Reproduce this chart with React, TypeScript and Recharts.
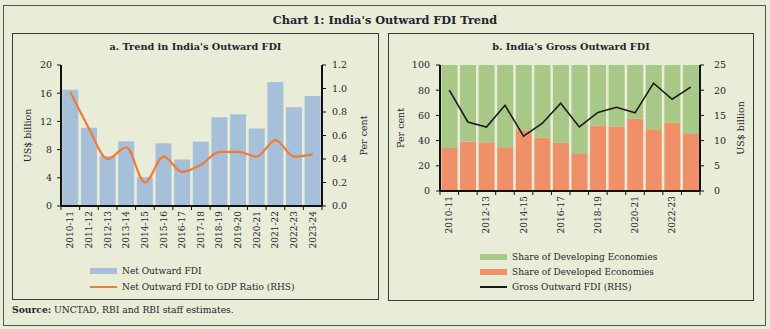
import { ComposedChart, Bar, Line, XAxis, YAxis, Label } from "recharts";

const years = [
  "2010-11", "2011-12", "2012-13", "2013-14", "2014-15", "2015-16", "2016-17",
  "2017-18", "2018-19", "2019-20", "2020-21", "2021-22", "2022-23", "2023-24",
];
// panel a
const netOutwardFdi = [16.5, 11.1, 7.1, 9.2, 4.1, 8.9, 6.6, 9.1, 12.6, 13.0, 11.0, 17.6, 14.0, 15.6];
const fdiToGdpRatio = [0.97, 0.66, 0.4, 0.5, 0.2, 0.42, 0.29, 0.35, 0.46, 0.46, 0.42, 0.56, 0.42, 0.44];
// panel b
const developedShare = [34.2, 39.0, 38.7, 34.8, 48.3, 42.2, 38.2, 29.4, 51.7, 50.9, 57.3, 49.1, 54.1, 45.3];
const developingShare = [65.8, 61.0, 61.3, 65.2, 51.7, 57.8, 61.8, 70.6, 48.3, 49.1, 42.7, 50.9, 45.9, 54.7];
const grossOutwardFdi = [20.0, 13.7, 12.7, 17.0, 10.9, 13.4, 17.4, 12.7, 15.6, 16.6, 15.5, 21.4, 18.2, 20.6];

const leftTicksA = [0, 4, 8, 12, 16, 20];
const rightTicksA = [0, 0.2, 0.4, 0.6, 0.8, 1.0, 1.2];
const leftTicksB = [0, 20, 40, 60, 80, 100];
const rightTicksB = [0, 5, 10, 15, 20, 25];

const dataA = years.map((year, i) => ({ year, net: netOutwardFdi[i], ratio: fdiToGdpRatio[i] }));
const dataB = years.map((year, i) => ({
  year,
  developed: developedShare[i],
  developing: developingShare[i],
  gross: grossOutwardFdi[i],
}));

const FONT = "'DejaVu Serif', serif";
const INK = "#1f2430";
const BG = "#E9ECD6";
const AXIS = "#111";

function YearTick(props: any) {
  const { x, y, payload, index, band, every } = props;
  const last = index === years.length - 1;
  return (
    <g>
      <line x1={x - band / 2} x2={x - band / 2} y1={y} y2={y + 4} stroke={AXIS} strokeWidth={1} />
      {last && <line x1={x + band / 2} x2={x + band / 2} y1={y} y2={y + 4} stroke={AXIS} strokeWidth={1} />}
      {index % every === 0 && (
        <text
          x={x}
          y={y + 5}
          transform={`rotate(-90, ${x}, ${y + 5})`}
          textAnchor="end"
          dominantBaseline="central"
          fontSize={9}
          fontFamily={FONT}
          fill={INK}
        >
          {payload.value}
        </text>
      )}
    </g>
  );
}

function axisTitle(text: string, dx: number) {
  return (p: any) => {
    const vb = p.viewBox;
    const cx = vb.x + dx;
    const cy = vb.y + vb.height / 2;
    return (
      <text
        x={cx}
        y={cy}
        transform={`rotate(-90, ${cx}, ${cy})`}
        textAnchor="middle"
        dominantBaseline="central"
        fontSize={9.5}
        fontFamily={FONT}
        fill={INK}
      >
        {text}
      </text>
    );
  };
}

const tickStyle = { fontSize: 9.5, fontFamily: FONT, fill: INK };

function LegendRow({ label, color, kind, top, left }: any) {
  return (
    <div style={{ position: "absolute", left, top, height: 14, display: "flex", alignItems: "center" }}>
      <div style={{ width: 27, height: kind === "bar" ? 6 : 2, background: color }} />
      <span style={{ marginLeft: 5, fontSize: 9, fontFamily: FONT, color: INK, whiteSpace: "nowrap" }}>
        {label}
      </span>
    </div>
  );
}

const panelStyle = (left: number, width: number, height: number): React.CSSProperties => ({
  position: "absolute",
  left,
  top: 33,
  width,
  height,
  border: "1.5px solid #3c3c3c",
  boxSizing: "border-box",
});

export default function App() {
  return (
    <div style={{ position: "absolute", left: 0, top: 0, width: 770, height: 329, background: BG, fontFamily: FONT }}>
      <div
        style={{
          position: "absolute",
          left: 3,
          top: 5,
          width: 763,
          height: 321,
          border: "1.5px solid #555",
          boxSizing: "border-box",
        }}
      />
      <div
        style={{
          position: "absolute",
          left: 0,
          width: 770,
          top: 13,
          textAlign: "center",
          fontWeight: "bold",
          fontSize: 11.3,
          color: INK,
        }}
      >
        Chart 1: India's Outward FDI Trend
      </div>

      {/* panel a */}
      <div style={panelStyle(12, 367, 267)} />
      <div
        style={{ position: "absolute", left: 12, width: 367, top: 41, textAlign: "center", fontWeight: "bold", fontSize: 9.7, color: INK }}
      >
        a. Trend in India's Outward FDI
      </div>
      <div style={{ position: "absolute", left: 12, top: 33 }}>
        <ComposedChart width={366} height={230} data={dataA} margin={{ top: 32, right: 0, left: 0, bottom: 0 }} barCategoryGap="7%">
          <XAxis
            dataKey="year"
            interval={0}
            height={57}
            tickSize={0}
            tickMargin={0}
            tickLine={false}
            axisLine={{ stroke: AXIS, strokeWidth: 2 }}
            tick={(p: any) => <YearTick {...p} band={261 / 14} every={1} />}
          />
          <YAxis
            yAxisId="left"
            width={49}
            domain={[0, 20]}
            ticks={leftTicksA}
            interval={0}
            tick={tickStyle}
            tickSize={4}
            tickMargin={5}
            axisLine={{ stroke: AXIS, strokeWidth: 2 }}
            tickLine={{ stroke: AXIS }}
          >
            <Label content={axisTitle("US$ billion", 15)} />
          </YAxis>
          <YAxis
            yAxisId="right"
            orientation="right"
            width={56}
            domain={[0, 1.2]}
            ticks={rightTicksA}
            interval={0}
            tick={tickStyle}
            tickFormatter={(v: number) => v.toFixed(1)}
            tickSize={4}
            tickMargin={6}
            axisLine={{ stroke: AXIS, strokeWidth: 2 }}
            tickLine={{ stroke: AXIS }}
          >
            <Label content={axisTitle("Per cent", 41)} />
          </YAxis>
          <Bar yAxisId="left" dataKey="net" fill="#A7C0D9" isAnimationActive={false} />
          <Line
            yAxisId="right"
            dataKey="ratio"
            type="monotone"
            stroke="#EF7B35"
            strokeWidth={2.2}
            dot={false}
            isAnimationActive={false}
          />
        </ComposedChart>
      </div>
      <LegendRow label="Net Outward FDI" color="#A7C0D9" kind="bar" left={90} top={264} />
      <LegendRow label="Net Outward FDI to GDP Ratio (RHS)" color="#EF7B35" kind="line" left={90} top={280} />

      {/* panel b */}
      <div style={panelStyle(388, 366, 268)} />
      <div
        style={{ position: "absolute", left: 388, width: 366, top: 41, textAlign: "center", fontWeight: "bold", fontSize: 9.7, color: INK }}
      >
        b. India's Gross Outward FDI
      </div>
      <div style={{ position: "absolute", left: 388, top: 33 }}>
        <ComposedChart width={365} height={230} data={dataB} margin={{ top: 32, right: 0, left: 0, bottom: 0 }} barCategoryGap="8%">
          <XAxis
            dataKey="year"
            interval={0}
            height={72}
            tickSize={0}
            tickMargin={0}
            tickLine={false}
            axisLine={{ stroke: AXIS, strokeWidth: 2 }}
            tick={(p: any) => <YearTick {...p} band={260 / 14} every={2} />}
          />
          <YAxis
            yAxisId="left"
            width={52}
            domain={[0, 100]}
            ticks={leftTicksB}
            interval={0}
            tick={tickStyle}
            tickSize={4}
            tickMargin={6}
            axisLine={{ stroke: AXIS, strokeWidth: 2 }}
            tickLine={{ stroke: AXIS }}
          >
            <Label content={axisTitle("Per cent", 12)} />
          </YAxis>
          <YAxis
            yAxisId="right"
            orientation="right"
            width={53}
            domain={[0, 25]}
            ticks={rightTicksB}
            interval={0}
            tick={tickStyle}
            tickSize={4}
            tickMargin={10}
            axisLine={{ stroke: AXIS, strokeWidth: 2 }}
            tickLine={{ stroke: AXIS }}
          >
            <Label content={axisTitle("US$ billion", 40)} />
          </YAxis>
          <Bar yAxisId="left" dataKey="developed" stackId="s" fill="#EF9068" isAnimationActive={false} />
          <Bar yAxisId="left" dataKey="developing" stackId="s" fill="#A8C887" isAnimationActive={false} />
          <Line
            yAxisId="right"
            dataKey="gross"
            type="linear"
            stroke="#1a1a1a"
            strokeWidth={1.6}
            dot={false}
            isAnimationActive={false}
          />
        </ComposedChart>
      </div>
      <LegendRow label="Share of Developing Economies" color="#A8C887" kind="bar" left={480} top={250} />
      <LegendRow label="Share of Developed Economies" color="#EF9068" kind="bar" left={480} top={265} />
      <LegendRow label="Gross Outward FDI (RHS)" color="#1a1a1a" kind="line" left={480} top={280} />

      <div style={{ position: "absolute", left: 12, top: 304, fontSize: 9.2, color: INK, whiteSpace: "nowrap" }}>
        <b>Source:</b> UNCTAD, RBI and RBI staff estimates.
      </div>
    </div>
  );
}
